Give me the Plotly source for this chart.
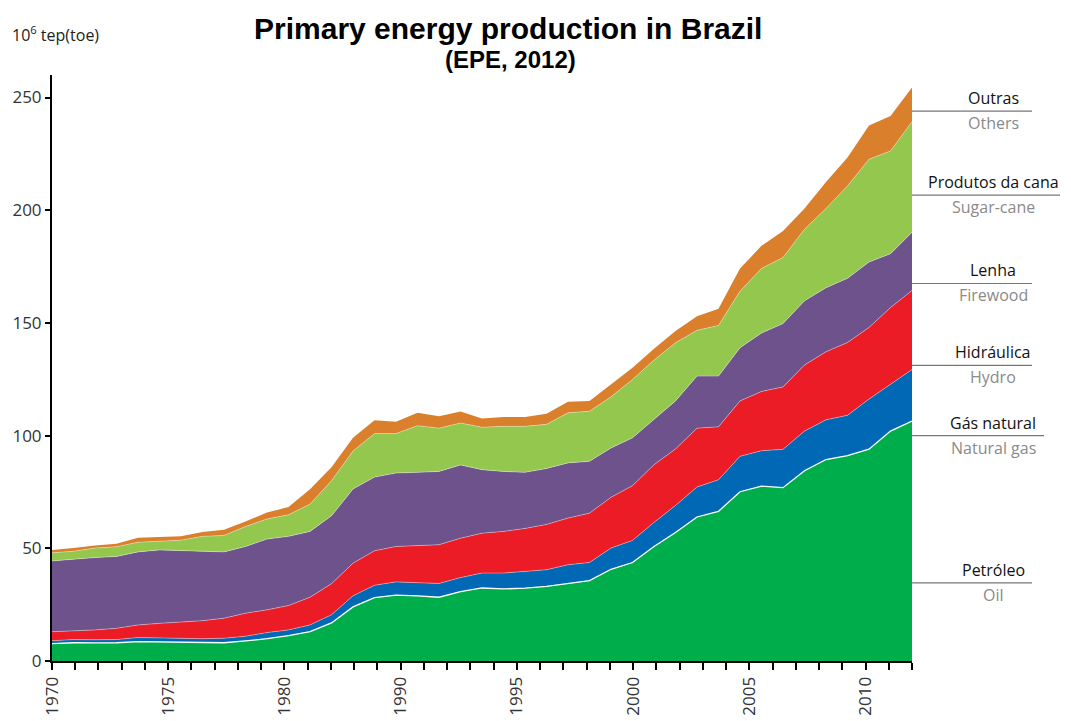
"""
Primary energy production in Brazil (EPE, 2012) - stacked area chart
"""

import plotly.graph_objects as go

# data points (41 annual values, 1970 onwards), 10^6 tep
years = list(range(1970, 2011))

petroleo = [7.7, 8.1, 8.0, 8.1, 8.6, 8.4, 8.3, 8.1, 8.1, 8.9,
            9.9, 11.3, 13.0, 16.9, 24.0, 28.1, 29.2, 28.9, 28.3, 30.8,
            32.4, 32.0, 32.3, 33.1, 34.5, 35.7, 40.7, 43.7, 50.8, 57.0,
            63.9, 66.4, 75.1, 77.6, 76.9, 84.4, 89.4, 91.1, 94.0, 102.0,
            106.5]
gas_natural = [1.3, 1.4, 1.4, 1.4, 1.8, 1.8, 1.8, 1.8, 2.0, 2.1,
               2.7, 2.5, 3.0, 3.6, 4.9, 5.5, 5.9, 5.9, 6.1, 6.2,
               6.6, 7.0, 7.3, 7.4, 8.2, 8.0, 9.4, 9.8, 10.7, 12.0,
               13.3, 14.0, 15.7, 15.7, 17.0, 17.6, 17.6, 17.9, 22.2, 20.9,
               22.8]
hidraulica = [4.0, 3.8, 4.4, 5.0, 5.6, 6.5, 7.1, 8.0, 8.9, 10.2,
              10.1, 10.8, 12.3, 13.8, 14.5, 15.3, 15.7, 16.3, 17.2, 17.5,
              17.7, 18.5, 19.2, 20.1, 20.7, 21.9, 22.5, 24.3, 25.6, 25.1,
              26.1, 23.5, 24.6, 26.3, 27.7, 29.3, 30.2, 32.3, 31.8, 33.9,
              35.1]
lenha = [31.4, 31.9, 32.1, 31.9, 32.4, 32.6, 31.7, 30.7, 29.4, 29.6,
         31.4, 30.7, 29.2, 30.1, 32.9, 32.7, 32.6, 32.6, 32.5, 32.5,
         28.2, 26.6, 24.9, 24.8, 24.5, 23.0, 21.9, 21.2, 20.0, 21.3,
         23.1, 22.5, 23.6, 25.9, 28.1, 28.5, 28.4, 28.5, 29.0, 23.9,
         25.8]
cana = [3.6, 3.5, 4.2, 4.3, 4.3, 4.0, 4.7, 6.7, 7.3, 8.9,
        8.9, 9.6, 12.1, 15.6, 16.9, 19.3, 17.5, 20.7, 19.2, 18.6,
        18.8, 20.0, 20.4, 19.6, 22.2, 22.2, 22.7, 25.9, 26.4, 25.8,
        20.3, 22.5, 25.1, 28.7, 29.3, 31.8, 35.2, 41.0, 45.6, 45.6,
        49.1]
outras = [1.3, 1.4, 1.2, 1.3, 2.0, 1.8, 1.7, 1.9, 2.5, 2.2,
          2.9, 3.4, 6.6, 6.0, 5.9, 5.9, 5.2, 5.7, 5.3, 5.1,
          3.9, 4.2, 4.2, 4.7, 4.9, 4.6, 5.5, 5.2, 5.0, 5.2,
          6.3, 7.4, 10.0, 10.0, 11.8, 9.2, 11.7, 12.6, 15.0, 15.5,
          15.1]

# x-axis ticks as printed on the original (38 evenly spaced ticks)
tick_labels = ['1970', '', '', '', '', '1975', '', '', '', '', '1980', '', '', '', '', '1990',
               '', '', '', '', '1995', '', '', '', '', '2000', '', '', '', '', '2005',
               '', '', '', '', '2010', '', '']

series = [
    ('Petróleo', 'Oil', petroleo, '#00ad4b', 34.7, 1032),
    ('Gás natural', 'Natural gas', gas_natural, '#0068b4', 100.0, 1044),
    ('Hidráulica', 'Hydro', hidraulica, '#ec1c27', 131.2, 1032),
    ('Lenha', 'Firewood', lenha, '#6d528b', 167.5, 1032),
    ('Produtos da cana', 'Sugar-cane', cana, '#93c74e', 206.7, 1060),
    ('Outras', 'Others', outras, '#da7f2b', 244.0, 1032),
]

fig = go.Figure()

for i, (pt, en, vals, color, _, _) in enumerate(series):
    if i == 0:
        line = dict(color='white', width=1.3)
    elif i == len(series) - 1:
        line = dict(color=color, width=0)
    else:
        line = dict(color='rgba(255,255,255,0.45)', width=0.8)
    fig.add_trace(go.Scatter(
        x=years, y=vals, name=f'{pt} / {en}',
        mode='lines', stackgroup='one',
        fillcolor=color, line=line,
        hovertemplate='%{x}: %{y:.1f}<extra>' + pt + '</extra>'
    ))

# page pixel positions of the plot area (used for label placement)
PLOT_L, PLOT_R, PLOT_T, PLOT_B = 52, 912, 75, 661


def px(x):
    return (x - PLOT_L) / (PLOT_R - PLOT_L)


def py(y):
    return (PLOT_B - y) / (PLOT_B - PLOT_T)


# right-hand labels
for pt, en, vals, color, ypos, xend in series:
    fig.add_shape(type='line', xref='paper', yref='y',
                  x0=1, x1=px(xend), y0=ypos, y1=ypos,
                  line=dict(color='#777', width=1.2))
    fig.add_annotation(x=px(993), y=ypos, xref='paper', yref='y',
                       text=pt, showarrow=False, yshift=13,
                       xanchor='center', yanchor='middle',
                       font=dict(size=16, color='#111'))
    fig.add_annotation(x=px(993), y=ypos, xref='paper', yref='y',
                       text=en, showarrow=False, yshift=-12,
                       xanchor='center', yanchor='middle',
                       font=dict(size=16, color='#8a8a8a'))

# titles
fig.add_annotation(x=px(508), y=py(28), xref='paper', yref='paper',
                   text='<b>Primary energy production in Brazil</b>',
                   showarrow=False, yanchor='middle',
                   font=dict(family='Liberation Sans, Arial', size=30, color='black'))
fig.add_annotation(x=px(510), y=py(60), xref='paper', yref='paper',
                   text='<b>(EPE, 2012)</b>',
                   showarrow=False, yanchor='middle',
                   font=dict(family='Liberation Sans, Arial', size=24, color='black'))
fig.add_annotation(x=px(10), y=py(34), xref='paper', yref='paper',
                   text='10<sup>6</sup> tep(toe)', showarrow=False,
                   xanchor='left', yanchor='middle',
                   font=dict(size=16, color='#222'))

tickvals = [1970 + k * 40 / 37 for k in range(len(tick_labels))]

# page body has an 8px margin, so the figure is drawn 8px smaller and shifted
fig.update_layout(
    width=1063, height=713,
    margin=dict(l=44, r=159, t=67, b=60, autoexpand=False),
    plot_bgcolor='white', paper_bgcolor='white',
    showlegend=False,
    font=dict(family='Open Sans, Noto Sans, sans-serif', size=17, color='#333'),
    xaxis=dict(range=[1970, 2010], tickvals=tickvals, ticktext=tick_labels,
               tickangle=-90, ticks='outside', ticklen=7, tickwidth=2,
               tickcolor='black', showline=True, linecolor='black', linewidth=2,
               showgrid=False, zeroline=False, automargin=False),
    yaxis=dict(range=[0, 260], tickvals=[0, 50, 100, 150, 200, 250],
               ticks='outside', ticklen=5, tickwidth=2, tickcolor='black',
               showline=True, linecolor='black', linewidth=2,
               showgrid=False, zeroline=False, automargin=False),
)

fig.write_html("out.html")
